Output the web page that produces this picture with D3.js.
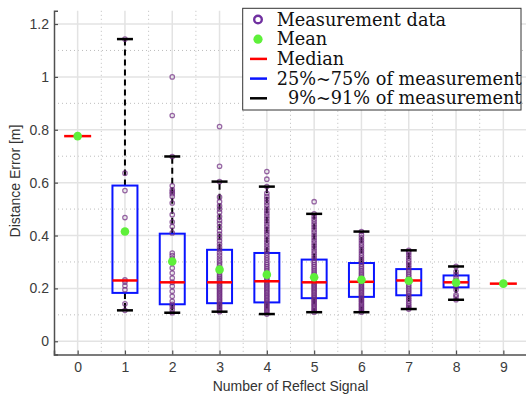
<!DOCTYPE html>
<html>
<head>
<meta charset="utf-8">
<script src="https://cdn.jsdelivr.net/npm/d3@7"></script>
<style>
  body { margin: 0; background: #fff; }
  svg { display: block; }
</style>
</head>
<body>
<div id="chart"></div>
<script>
// number of reflect signals (x categories)
var categories = [0, 1, 2, 3, 4, 5, 6, 7, 8, 9];

// box statistics
var medians = [0.776, 0.230, 0.223, 0.223, 0.227, 0.223, 0.225, 0.230, 0.223, 0.218];
var means   = [0.776, 0.415, 0.302, 0.271, 0.252, 0.242, 0.233, 0.229, 0.222, 0.218];
var q25     = [null, 0.183, 0.140, 0.144, 0.147, 0.163, 0.168, 0.174, 0.204, null];
var q75     = [null, 0.589, 0.407, 0.346, 0.334, 0.309, 0.296, 0.273, 0.249, null];
var p9      = [null, 0.117, 0.108, 0.112, 0.103, 0.110, 0.110, 0.122, 0.157, null];
var p91     = [null, 1.143, 0.699, 0.604, 0.585, 0.482, 0.415, 0.344, 0.283, null];

// individual measurements per category
var meas0 = [0.776];
var meas1 = [1.143, 0.636, 0.570, 0.468, 0.232, 0.224, 0.210, 0.195, 0.142, 0.117];
var meas2 = [1.000, 0.854, 0.699, 0.588, 0.573, 0.565, 0.558, 0.548, 0.523, 0.479, 0.451, 0.434, 0.410,
             0.334, 0.324, 0.314, 0.296, 0.277, 0.258, 0.239, 0.223, 0.208, 0.189, 0.170, 0.151, 0.140,
             0.132, 0.120, 0.108];
var meas3 = [0.812, 0.662, 0.604, 0.545, 0.528, 0.512, 0.500, 0.488, 0.472, 0.458, 0.446, 0.432, 0.418,
             0.405, 0.392, 0.380, 0.368, 0.356, 0.346, 0.335, 0.325, 0.315, 0.305, 0.296, 0.287, 0.278,
             0.270, 0.262, 0.254, 0.246, 0.239, 0.232, 0.226, 0.220, 0.214, 0.208, 0.202, 0.196, 0.190,
             0.184, 0.178, 0.172, 0.166, 0.160, 0.154, 0.148, 0.142, 0.136, 0.130, 0.124, 0.118, 0.112];
var meas4 = [0.642, 0.613, 0.585, 0.560, 0.548, 0.538, 0.526, 0.515, 0.504, 0.494, 0.484, 0.474, 0.464,
             0.454, 0.444, 0.434, 0.424, 0.414, 0.404, 0.394, 0.384, 0.374, 0.364, 0.354, 0.344, 0.334,
             0.325, 0.316, 0.307, 0.298, 0.290, 0.282, 0.274, 0.266, 0.258, 0.251, 0.244, 0.237, 0.230,
             0.224, 0.218, 0.212, 0.206, 0.200, 0.194, 0.188, 0.182, 0.176, 0.170, 0.164, 0.158, 0.152,
             0.146, 0.140, 0.134, 0.128, 0.122, 0.116, 0.110, 0.103];
var meas5 = [0.528, 0.482, 0.472, 0.462, 0.452, 0.442, 0.432, 0.422, 0.412, 0.402, 0.392, 0.382, 0.372,
             0.362, 0.352, 0.342, 0.333, 0.324, 0.315, 0.306, 0.298, 0.290, 0.282, 0.274, 0.266, 0.258,
             0.251, 0.244, 0.237, 0.230, 0.224, 0.218, 0.212, 0.206, 0.200, 0.194, 0.188, 0.182, 0.176,
             0.170, 0.164, 0.158, 0.152, 0.146, 0.140, 0.134, 0.128, 0.122, 0.116, 0.110];
var meas6 = [0.415, 0.403, 0.392, 0.382, 0.372, 0.362, 0.352, 0.342, 0.333, 0.324, 0.315, 0.306, 0.298,
             0.290, 0.282, 0.274, 0.266, 0.258, 0.251, 0.244, 0.237, 0.230, 0.224, 0.218, 0.212, 0.206,
             0.200, 0.194, 0.188, 0.182, 0.176, 0.170, 0.164, 0.158, 0.152, 0.146, 0.140, 0.134, 0.128,
             0.122, 0.116, 0.110];
var meas7 = [0.344, 0.336, 0.326, 0.316, 0.306, 0.297, 0.288, 0.279, 0.270, 0.262, 0.254, 0.246, 0.238,
             0.230, 0.222, 0.214, 0.206, 0.198, 0.190, 0.182, 0.174, 0.166, 0.158, 0.150, 0.142, 0.134,
             0.128, 0.122];
var meas8 = [0.283, 0.264, 0.252, 0.240, 0.230, 0.222, 0.214, 0.205, 0.195, 0.176, 0.168, 0.157];
var meas9 = [0.218];
var measurements = [meas0, meas1, meas2, meas3, meas4, meas5, meas6, meas7, meas8, meas9];

var yTicks = [0, 0.2, 0.4, 0.6, 0.8, 1.0, 1.2];
var yMinor = [0.1, 0.3, 0.5, 0.7, 0.9, 1.1];
var xMinor = [0.5, 1.5, 2.5, 3.5, 4.5, 5.5, 6.5, 7.5, 8.5];

var legendLabels = ["Measurement data", "Mean", "Median",
                    "25%~75% of measurement", "  9%~91% of measurement"];

var W = 526, H = 396;
var pL = 54, pR = 527, pT = 10.8, pB = 354.5;

var x = d3.scaleLinear().domain([-0.5, 9.5]).range([pL, pR]);
var y = d3.scaleLinear().domain([-0.05, 1.25]).range([pB, pT]);

var boxW = 25, capW = 16;
var purple = "#6e2a80", green = "#5ef03a", axisCol = "#505050";

var svg = d3.select("#chart").append("svg")
    .attr("width", W)
    .attr("height", H);

// grid
var grid = svg.append("g");
grid.selectAll(".minx").data(xMinor).enter().append("line")
    .attr("x1", d => x(d)).attr("x2", d => x(d))
    .attr("y1", pT).attr("y2", pB)
    .attr("stroke", "#bdbdbd").attr("stroke-width", 1).attr("stroke-dasharray", "1,3");
grid.selectAll(".miny").data(yMinor).enter().append("line")
    .attr("x1", pL).attr("x2", pR)
    .attr("y1", d => y(d)).attr("y2", d => y(d))
    .attr("stroke", "#bdbdbd").attr("stroke-width", 1).attr("stroke-dasharray", "1,3");
grid.selectAll(".majx").data(categories).enter().append("line")
    .attr("x1", d => x(d)).attr("x2", d => x(d))
    .attr("y1", pT).attr("y2", pB)
    .attr("stroke", "#e3e3e3").attr("stroke-width", 1.5);
grid.selectAll(".majy").data(yTicks).enter().append("line")
    .attr("x1", pL).attr("x2", pR)
    .attr("y1", d => y(d)).attr("y2", d => y(d))
    .attr("stroke", "#e3e3e3").attr("stroke-width", 1.5);

var stats = categories.map(function(c, i) {
  return {c: c, med: medians[i], mean: means[i], q1: q25[i], q3: q75[i], lo: p9[i], hi: p91[i], pts: measurements[i]};
});
var boxed = stats.filter(d => d.q1 !== null);

// whiskers
var wh = svg.append("g");
wh.selectAll(".wu").data(boxed).enter().append("line")
    .attr("x1", d => x(d.c)).attr("x2", d => x(d.c))
    .attr("y1", d => y(d.q3)).attr("y2", d => y(d.hi))
    .attr("stroke", "#000").attr("stroke-width", 2).attr("stroke-dasharray", "6,4");
wh.selectAll(".wl").data(boxed).enter().append("line")
    .attr("x1", d => x(d.c)).attr("x2", d => x(d.c))
    .attr("y1", d => y(d.q1)).attr("y2", d => y(d.lo))
    .attr("stroke", "#000").attr("stroke-width", 2).attr("stroke-dasharray", "6,4");

// boxes
svg.selectAll(".box").data(boxed).enter().append("rect")
    .attr("x", d => x(d.c) - boxW / 2)
    .attr("y", d => y(d.q3))
    .attr("width", boxW)
    .attr("height", d => y(d.q1) - y(d.q3))
    .attr("fill", "none").attr("stroke", "#0a14ff").attr("stroke-width", 2);

// measurement points
var pts = [];
stats.forEach(function(d) { d.pts.forEach(function(v) { pts.push({c: d.c, v: v}); }); });
svg.selectAll(".pt").data(pts).enter().append("circle")
    .attr("cx", d => x(d.c)).attr("cy", d => y(d.v)).attr("r", 2.2)
    .attr("fill", "none").attr("stroke", purple).attr("stroke-width", 1.3).attr("stroke-opacity", 0.7);

// caps
var caps = svg.append("g");
caps.selectAll(".cu").data(boxed).enter().append("line")
    .attr("x1", d => x(d.c) - capW / 2).attr("x2", d => x(d.c) + capW / 2)
    .attr("y1", d => y(d.hi)).attr("y2", d => y(d.hi))
    .attr("stroke", "#000").attr("stroke-width", 2.5);
caps.selectAll(".cl").data(boxed).enter().append("line")
    .attr("x1", d => x(d.c) - capW / 2).attr("x2", d => x(d.c) + capW / 2)
    .attr("y1", d => y(d.lo)).attr("y2", d => y(d.lo))
    .attr("stroke", "#000").attr("stroke-width", 2.5);

// medians
svg.selectAll(".med").data(stats).enter().append("line")
    .attr("x1", d => x(d.c) - (d.q1 === null ? 13.5 : boxW / 2))
    .attr("x2", d => x(d.c) + (d.q1 === null ? 13.5 : boxW / 2))
    .attr("y1", d => y(d.med)).attr("y2", d => y(d.med))
    .attr("stroke", "#ff0000").attr("stroke-width", 2.5);

// means
svg.selectAll(".mean").data(stats).enter().append("circle")
    .attr("cx", d => x(d.c)).attr("cy", d => y(d.mean)).attr("r", 4.3)
    .attr("fill", green);

// axes
var xAxis = svg.append("g")
    .attr("transform", "translate(0," + pB + ")")
    .call(d3.axisBottom(x).tickValues(categories).tickSize(-4).tickPadding(8).tickFormat(d3.format("d")));
var yAxis = svg.append("g")
    .attr("transform", "translate(" + pL + ",0)")
    .call(d3.axisLeft(y).tickValues(yTicks).tickSize(-4).tickPadding(5).tickFormat(d => String(+d.toFixed(1))));
[xAxis, yAxis].forEach(function(a) {
  a.select(".domain").attr("stroke", axisCol).attr("stroke-width", 1.5);
  a.selectAll(".tick line").attr("stroke", axisCol).attr("stroke-width", 1.2);
  a.selectAll(".tick text").attr("fill", "#3c3c3c")
    .style("font-family", "Liberation Sans, Arial, sans-serif").style("font-size", "14px");
});

svg.append("text")
    .attr("x", (pL + pR) / 2).attr("y", 391)
    .attr("text-anchor", "middle").attr("fill", "#333")
    .style("font-family", "Liberation Sans, Arial, sans-serif").style("font-size", "14px")
    .text("Number of Reflect Signal");
svg.append("text")
    .attr("transform", "translate(20,181) rotate(-90)")
    .attr("text-anchor", "middle").attr("fill", "#333")
    .style("font-family", "Liberation Sans, Arial, sans-serif").style("font-size", "14px")
    .text("Distance Error [m]");

// legend
var lg = svg.append("g");
lg.append("rect")
    .attr("x", 242.7).attr("y", 8.3).attr("width", 278.3).attr("height", 101.7)
    .attr("fill", "#fff").attr("stroke", "#333").attr("stroke-width", 1);
var rowY = function(i) { return 19.5 + i * 19.7; };
lg.append("circle").attr("cx", 258).attr("cy", rowY(0)).attr("r", 3.8)
    .attr("fill", "none").attr("stroke", "#7030a0").attr("stroke-width", 2.4);
lg.append("circle").attr("cx", 258).attr("cy", rowY(1)).attr("r", 4.6).attr("fill", green);
["#ff0000", "#0a14ff", "#000"].forEach(function(col, k) {
  lg.append("line").attr("x1", 250).attr("x2", 267)
    .attr("y1", rowY(k + 2)).attr("y2", rowY(k + 2))
    .attr("stroke", col).attr("stroke-width", 2.5);
});
lg.selectAll(".lt").data(legendLabels).enter().append("text")
    .attr("x", 276.7).attr("y", (d, i) => rowY(i) + 6)
    .attr("fill", "#111")
    .style("font-family", "DejaVu Serif, serif").style("font-size", "17.7px")
    .style("white-space", "pre").attr("xml:space", "preserve")
    .text(d => d);
</script>
</body>
</html>
